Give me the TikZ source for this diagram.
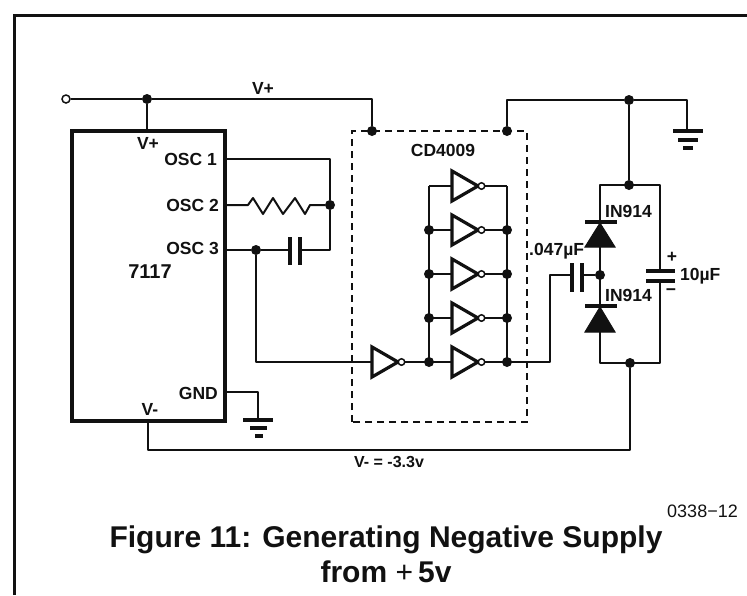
\documentclass[tikz,border=0pt]{standalone}
\usepackage{fontspec}
\setmainfont{Liberation Sans}
\newcommand{\lblfont}{\fontsize{17.5}{19}\selectfont\bfseries}
\newcommand{\invgate}[3]{%
  \coordinate (#1-in) at (#2,#3);
  \coordinate (#1-tip) at (#2+26,#3);
  \coordinate (#1-out) at (#2+33,#3);
  \draw[gate] (#2,#3-15) -- (#1-tip) -- (#2,#3+15) -- cycle;
  \node[bubble] (#1-b) at (#2+29.5,#3) {};
}
\tikzset{
  wire/.style={line width=2pt,color=ink,line join=round},
  gate/.style={line width=3.2pt,color=ink,fill=white,line join=miter},
  bubble/.style={circle,draw=ink,line width=1.5pt,fill=white,inner sep=0pt,minimum size=6.5pt},
  jdot/.style={circle,fill=ink,inner sep=0pt,minimum size=10pt},
  plate/.style={line width=3.2pt,color=ink},
  dashbox/.style={line width=2pt,color=ink,dash pattern=on 7pt off 5pt},
  lbl/.style={font=\lblfont,text=ink,inner sep=0pt},
  frameline/.style={line width=3pt,color=ink},
  dio/.style={fill=ink,draw=ink,line width=1pt,line join=miter}
}
\definecolor{ink}{HTML}{111111}
\begin{document}
\begin{tikzpicture}[x=1pt,y=-1pt]
\useasboundingbox (0,0) rectangle (747,595);
% frame
\coordinate (fa) at (14,595); \coordinate (fb) at (14,15); \coordinate (fc) at (747,15);
\draw[frameline] (fa) -- (fb) -- (fc);
% chip
\node[draw=ink,line width=4.5pt,minimum width=153pt,minimum height=290pt,inner sep=0pt] (ic) at (148.5,276) {};
\node[lbl,anchor=east] (o1) at (217,159) {OSC 1};
\node[lbl,anchor=east] (o2) at (219,205) {OSC 2};
\node[lbl,anchor=east] (o3) at (219,248) {OSC 3};
\node[lbl,font=\fontsize{20}{22}\selectfont\bfseries] (n7117) at (150,272) {7117};
\node[lbl,anchor=east] (gnd) at (218,393) {GND};
\node[lbl] (vpi) at (148,143) {V+};
\node[lbl] (vmi) at (150,409) {V-};
% dashed box
\draw[dashbox] (352,422) -- (352,131) -- (527,131) -- (527,422) -- cycle;
% junctions
\node[bubble,minimum size=8pt] (in) at (66,99) {};
\node[jdot] (j1) at (147,99) {};
\node[jdot] (j2) at (372,131) {};
\node[jdot] (j3) at (507,131) {};
\node[jdot] (j4) at (629,100) {};
\node[jdot] (j5) at (629,185) {};
\node[jdot] (j6) at (630,363) {};
\node[jdot] (j7) at (330,205) {};
\node[jdot] (j8) at (256,250) {};
\node[jdot] (j9) at (600,275) {};
% wires
\coordinate (c1) at (372,99);
\coordinate (c2) at (507,100);
\coordinate (c3) at (687,100);
\coordinate (g1) at (687,131);
\draw[wire] (in) -- (j1) -- (c1) -- (j2);
\draw[wire] (j1) -- (147,131);
\draw[wire] (j3) -- (c2) -- (j4) -- (c3) -- (g1);
\draw[wire] (j4) -- (j5);
\draw[wire] (600,185) -- (660,185) -- (660,363) -- (600,363) -- cycle;
\draw[wire] (j6) -- (630,450) -- (148,450) -- (148,421);
% oscillator
\draw[wire] (225,159) -- (330,159) -- (j7) -- (330,250) -- (300,250);
\draw[wire] (225,205) -- (248,205) -- (253,198) -- (263,214) -- (273,198) -- (283,214) -- (295,198) -- (305,214) -- (310,205) -- (j7);
\draw[wire] (225,250) -- (j8) -- (290,250);
\coordinate (cap1a) at (290,237); \coordinate (cap1b) at (290,265);
\coordinate (cap1c) at (300,237); \coordinate (cap1d) at (300,265);
\draw[plate] (cap1a) -- (cap1b); \draw[plate] (cap1c) -- (cap1d);
% gates
\draw[wire] (429,186) -- (429,362);
\draw[wire] (507,186) -- (507,362);
\draw[wire] (j8) -- (256,362) -- (372,362);
\draw[wire] (429,186) -- (507,186);
\draw[wire] (429,230) -- (507,230);
\draw[wire] (429,274) -- (507,274);
\draw[wire] (429,318) -- (507,318);
\draw[wire] (403,362) -- (507,362) -- (550,362) -- (550,275) -- (572,275);
\draw[wire] (582,275) -- (j9);
\invgate{ga}{372}{362}
\invgate{gb}{452}{186}
\invgate{gc}{452}{230}
\invgate{gd}{452}{274}
\invgate{ge}{452}{318}
\invgate{gf}{452}{362}
\foreach \yy/\nm in {230/a,274/b,318/c,362/d}{
  \node[jdot] (l\nm) at (429,\yy) {};
  \node[jdot] (r\nm) at (507,\yy) {};
}
% coupling cap
\draw[plate] (572,263) -- (572,292);
\draw[plate] (582,263) -- (582,292);
% diodes
\draw[plate] (585,222) -- (617,222);
\draw[dio] (600,223) -- (615,247) -- (585,247) -- cycle;
\draw[plate] (585,306) -- (617,306);
\draw[dio] (600,307) -- (615,332) -- (585,332) -- cycle;
% 10uF cap
\fill[white] (645,272) rectangle (676,281);
\draw[plate] (646,271) -- (675,271);
\draw[plate] (646,281) -- (675,281);
% grounds
\draw[plate] (673,131) -- (703,131);
\draw[plate] (678,140) -- (698,140);
\draw[plate] (683,148) -- (693,148);
\draw[wire] (225,392) -- (258,392) -- (258,420);
\draw[plate] (243,420) -- (273,420);
\draw[plate] (250,428) -- (267,428);
\draw[plate] (255,436) -- (263,436);
% labels
\node[lbl] (lv) at (263,88) {V+};
\node[lbl] (lcd) at (443,150) {CD4009};
\node[lbl,anchor=west] (ld1) at (605,211) {IN914};
\node[lbl,anchor=west] (ld2) at (605,295) {IN914};
\node[lbl,anchor=west] (lc) at (529,251) {.047µF};
\node[lbl,anchor=west] (lu) at (680,276) {10µF};
\node[lbl] (lp) at (672,257) {+};
\node[lbl] (lm) at (671,292) {−};
\node[lbl,font=\fontsize{16}{18}\selectfont\bfseries] (lvm) at (389,462) {V- = -3.3v};
\node[lbl,anchor=east,font=\fontsize{18}{20}\selectfont] (code) at (738,511) {0338−12};
\node[lbl,font=\fontsize{30}{32}\selectfont\bfseries] (t1) at (386,540) {Figure 11: Generating Negative Supply};
\node[lbl,font=\fontsize{30}{32}\selectfont\bfseries] (t2) at (386,572) {from \mdseries+\bfseries\,5v};
\end{tikzpicture}
\end{document}
